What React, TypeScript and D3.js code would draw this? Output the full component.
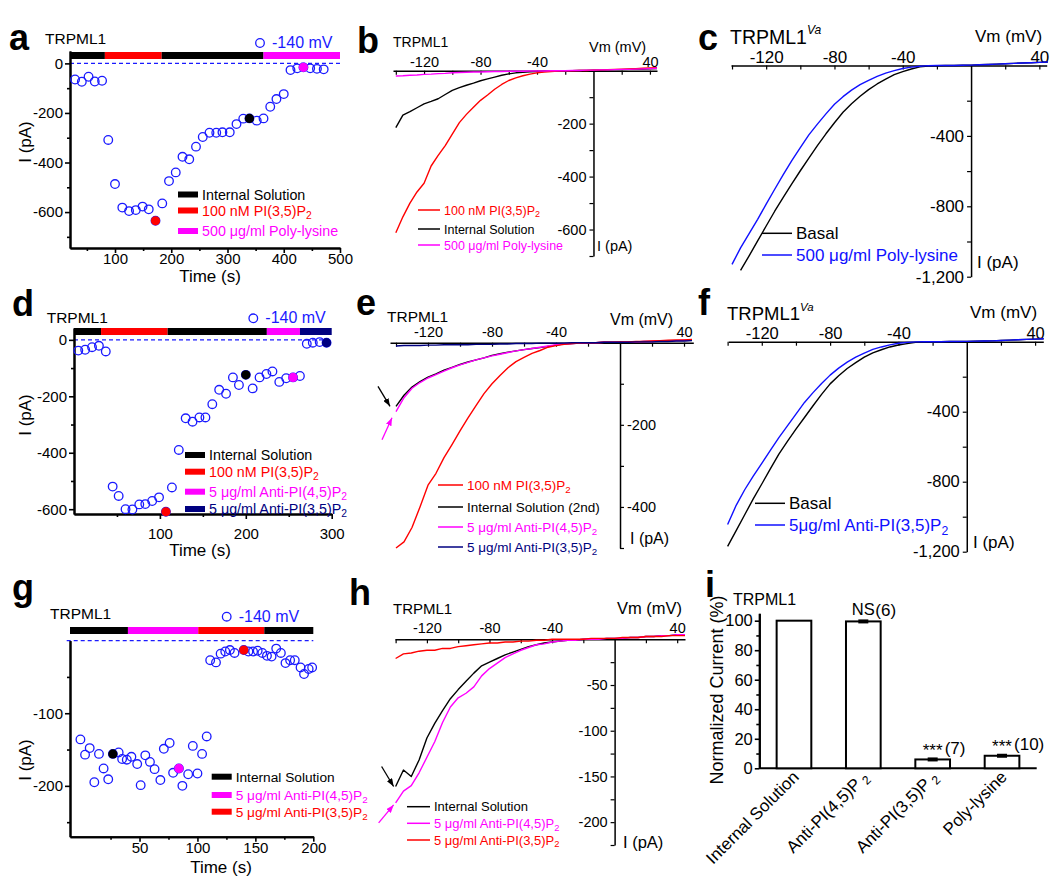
import React, { useEffect, useRef } from "react";
import * as d3 from "d3";

const FONT = "'Liberation Sans', Arial, Helvetica, sans-serif";
const BLUE = "#1a1aff";
const RED = "#ff0000";
const MAGENTA = "#ff00ff";
const NAVY = "#000080";

// ---- a: current at -140 mV over time ----
const aTime = [29, 41, 53, 64, 77, 88, 100, 113, 125, 137, 149, 160, 172, 184, 196, 208, 220, 232, 244, 256, 268, 280, 291, 304, 316, 328, 339, 352, 364, 376, 387, 400, 412, 424, 435, 447, 459, 471];
const aCurrent = [-65, -74, -54, -73, -70, -309, -487, -582, -596, -592, -578, -589, -635, -565, -475, -440, -377, -387, -336, -297, -280, -280, -278, -278, -245, -223, -222, -231, -222, -175, -144, -124, -27, -20, -16, -20, -22, -24];
const aMarkTime = [172, 339, 435];
const aMarkCurrent = [-635, -222, -16];
const aBars = [20, 82, 183, 364, 500];
const aLegend = ["Internal Solution", "100 nM PI(3,5)P_2", "500 μg/ml Poly-lysine"];

// ---- d ----
const dTime = [5, 13, 21, 29, 37, 45, 52, 60, 68, 76, 83, 91, 99, 107, 114, 122, 130, 138, 146, 153, 161, 169, 177, 185, 192, 200, 208, 216, 224, 231, 239, 247, 255, 263, 271, 278, 286, 294];
const dCurrent = [-38, -35, -26, -21, -41, -520, -553, -600, -601, -583, -582, -571, -558, -609, -523, -390, -278, -290, -275, -275, -228, -177, -191, -133, -160, -124, -172, -133, -121, -112, -149, -136, -133, -128, -14, -10, -8, -10];
const dMarkTime = [107, 200, 255, 294];
const dMarkCurrent = [-609, -124, -133, -10];
const dBars = [0, 31.5, 109, 224.5, 263, 300];
const dLegend = ["Internal Solution", "100 nM PI(3,5)P_2", "5 μg/ml Anti-PI(4,5)P_2", "5 μg/ml Anti-PI(3,5)P_2"];

// ---- g ----
const gTime = [-1, 3, 7, 11, 15, 19, 23, 27, 32, 35, 39, 43, 48, 51, 55, 59, 63, 68, 71, 76, 79, 84, 87, 92, 96, 100, 104, 108, 111, 116, 120, 124, 128, 132, 140, 144, 148, 152, 156, 160, 164, 168, 172, 176, 180, 184, 189, 192, 196, 199];
const gCurrent = [-136, -157, -148, -195, -156, -176, -191, -156, -154, -163, -164, -160, -170, -199, -158, -167, -177, -192, -149, -141, -182, -176, -200, -184, -145, -183, -156, -132, -27, -30, -18, -15, -13, -17, -13, -15, -15, -14, -17, -21, -22, -11, -17, -31, -27, -27, -37, -46, -39, -37];
const gMarkTime = [27, 84, 140];
const gMarkCurrent = [-156, -176, -13];
const gBars = [-10, 40, 100.7, 157.7, 200];
const gLegend = ["Internal Solution", "5 μg/ml Anti-PI(4,5)P_2", "5 μg/ml Anti-PI(3,5)P_2"];

// ---- I-V ramps, read every 5 mV ----
const ivVoltage = [-140, -135, -130, -125, -120, -115, -110, -105, -100, -95, -90, -85, -80, -75, -70, -65, -60, -55, -50, -45, -40, -35, -30, -25, -20, -15, -10, -5, 0, 5, 10, 15, 20, 25, 30, 35, 40, 45];
const ivTicks = [-140, -120, -100, -80, -60, -40, -20, 20, 40];
const ivTickLabels = [-120, -80, -40, 40];

const bPI35 = [-612, -552, -500, -458, -425, -360, -320, -283, -240, -196, -165, -138, -112, -92, -70, -52, -37, -27, -19, -13, -8, -5, -3, -1, 0, 0, 1, 1, 2, 3, 4, 5, 6, 7, 8, 9, 10, 11];
const bInternal = [-215, -168, -155, -140, -125, -116, -106, -90, -74, -64, -55, -47, -38, -31, -24, -17, -12, -8, -6, -4, -3, -2, -1, 0, 0, 0, 1, 1, 2, 2, 3, 4, 4, 5, 6, 6, 7, 8];
const bPolyLys = [-20, -19, -17, -16, -14, -13, -11, -10, -8, -7, -6, -5, -5, -4, -3, -3, -2, -2, -2, -1, -1, -1, 0, 0, 0, 1, 1, 2, 2, 3, 3, 4, 5, 5, 6, 7, 8, 9];

const cBasal = [null, -1164, -1082, -996, -912, -828, -749, -672, -598, -526, -455, -388, -325, -266, -217, -175, -137, -105, -77, -52, -35, -20, -8, -3, -1, 0, 0, 1, 2, 4, 6, 8, 10, 12, 14, 16, 18, 20];
const cPolyLys = [-1130, -1036, -955, -874, -788, -703, -620, -541, -466, -394, -333, -275, -220, -177, -140, -109, -84, -62, -43, -29, -17, -9, -4, -1, 0, 0, 0, 1, 2, 4, 6, 8, 10, 12, 14, 16, 18, 20];

const eP35 = [-500, -485, -450, -400, -347, -318, -280, -248, -215, -183, -153, -124, -100, -80, -61, -46, -36, -26, -19, -11, -7, -4, -2, -1, 0, 0, 1, 1, 2, 2, 3, 3, 4, 5, 6, 7, 7, 8];
const eInternal2 = [-155, -128, -108, -95, -84, -76, -67, -60, -53, -47, -42, -37, -31, -27, -23, -20, -17, -14, -12, -9, -6, -3, -2, -1, 0, 0, 1, 1, 1, 2, 2, 3, 3, 4, 4, 5, 5, 6];
const eAnti45 = [-168, -134, -111, -97, -86, -78, -69, -61, -54, -48, -42, -37, -32, -28, -24, -20, -17, -14, -11, -8, -5, -3, -2, -1, 0, 0, 1, 1, 1, 2, 2, 3, 3, 4, 5, 5, 6, 6];
const eAnti35 = [-8, -7, -7, -7, -6, -6, -5, -5, -5, -5, -4, -4, -4, -3, -3, -2, -2, -2, -1, -1, -1, -1, 0, 0, 0, 0, 1, 1, 1, 1, 2, 2, 2, 3, 3, 4, 4, 5];

const fBasal = [-1170, -1080, -989, -898, -813, -727, -642, -570, -500, -433, -366, -301, -241, -195, -153, -120, -88, -64, -46, -30, -19, -11, -4, -1, 0, 0, 1, 1, 2, 3, 4, 5, 7, 9, 11, 13, 15, 17];
const fAnti35 = [-1045, -935, -846, -768, -695, -621, -548, -481, -414, -347, -291, -239, -191, -151, -117, -88, -65, -44, -30, -18, -9, -4, -1, 0, 0, 0, 1, 1, 2, 3, 4, 5, 7, 9, 11, 13, 15, 17];

const hInternal = [-161, -143, -150, -132, -108, -92, -78, -65, -55, -46, -37, -29, -25, -21, -17, -14, -11, -8, -6, -4, -3, -2, -1, -1, 0, 0, 0, 1, 1, 1, 2, 2, 3, 3, 4, 4, 5, 5];
const hAnti45 = [-179, -166, -160, -146, -129, -112, -91, -74, -64, -59, -52, -40, -32, -26, -20, -16, -12, -9, -6, -5, -3, -2, -1, -1, 0, 0, 0, 1, 1, 1, 2, 2, 3, 3, 4, 4, 5, 5];
const hAnti35 = [-21, -16, -15, -13, -12, -12, -10, -10, -8, -7, -6, -5, -4, -4, -3, -3, -2, -2, -1, -1, 0, 0, 0, 0, 0, 1, 1, 1, 1, 2, 2, 2, 3, 3, 3, 4, 4, 4];

// ---- i: summary ----
const iLabels = ["Internal Solution", "Anti-PI(4,5)P_\u00a02", "Anti-PI(3,5)P_\u00a02", "Poly-lysine"];
const iMean = [100, 99.5, 6, 8.5];
const iSem = [0, 1, 0.8, 1];
const iSig = ["", "NS", "***", "***"];
const iN = ["", "(6)", "(7)", "(10)"];

const fmtComma = d3.formatLocale({ decimal: ".", thousands: ",", grouping: [3], currency: ["", ""], minus: "-" }).format(",");

function richText(t: any, str: string) {
  const sub = str.indexOf("_");
  const sup = str.indexOf("^");
  if (sub >= 0) {
    t.append("tspan").text(str.slice(0, sub));
    t.append("tspan").attr("font-size", "72%").attr("dy", "0.3em").text(str.slice(sub + 1));
  } else if (sup >= 0) {
    t.append("tspan").text(str.slice(0, sup));
    t.append("tspan").attr("font-size", "62%").attr("dy", "-0.8em").attr("font-style", "italic").text(str.slice(sup + 1));
  } else {
    t.text(str);
  }
}

function label(g: any, x: number, y: number, str: string, size: number, o: any = {}) {
  const t = g.append("text").attr("font-family", FONT).attr("font-size", size).attr("fill", o.color || "#000");
  if (o.rotate) t.attr("transform", `translate(${x},${y}) rotate(${o.rotate})`);
  else t.attr("x", x).attr("y", y);
  if (o.anchor) t.attr("text-anchor", o.anchor);
  if (o.weight) t.attr("font-weight", o.weight);
  richText(t, str);
  return t;
}

function styleAxis(a: any, size: number, width: number) {
  a.attr("font-family", FONT).attr("font-size", size);
  a.select(".domain").attr("stroke", "#000").attr("stroke-width", width);
  a.selectAll(".tick line").attr("stroke", "#000").attr("stroke-width", width * 0.8);
  a.selectAll(".tick text").attr("fill", "#000");
}

function drawTimeCourse(svg: any, p: any) {
  const x = d3.scaleLinear().domain(p.tDomain).range([p.left, p.right]);
  const y = d3.scaleLinear().domain(p.iDomain).range([p.bottom, p.top]);
  const g = svg.append("g");

  p.barColors.forEach((c: string, k: number) => {
    g.append("rect")
      .attr("x", x(p.bars[k]))
      .attr("y", p.barY)
      .attr("width", x(p.bars[k + 1]) - x(p.bars[k]))
      .attr("height", 7)
      .attr("fill", c);
  });
  g.append("line")
    .attr("x1", p.dashLeft).attr("x2", p.right)
    .attr("y1", y(0)).attr("y2", y(0))
    .attr("stroke", BLUE).attr("stroke-width", 1.1).attr("stroke-dasharray", "4,3");

  const xm = g.append("g").attr("transform", `translate(0,${p.bottom})`)
    .call(d3.axisBottom(x).tickValues(p.xMinor).tickFormat(() => "").tickSize(3).tickSizeOuter(0));
  styleAxis(xm, p.tickFont, 2);
  const xM = g.append("g").attr("transform", `translate(0,${p.bottom})`)
    .call(d3.axisBottom(x).tickValues(p.xTicks).tickFormat((d: any) => String(d)).tickSize(5).tickSizeOuter(0).tickPadding(p.xPad));
  styleAxis(xM, p.tickFont, 2);
  const ym = g.append("g").attr("transform", `translate(${p.left},0)`)
    .call(d3.axisLeft(y).tickValues(p.yMinor).tickFormat(() => "").tickSize(3).tickSizeOuter(0));
  styleAxis(ym, p.tickFont, 2);
  const yM = g.append("g").attr("transform", `translate(${p.left},0)`)
    .call(d3.axisLeft(y).tickValues(p.yTicks).tickFormat((d: any) => String(d)).tickSize(5).tickSizeOuter(0).tickPadding(2));
  styleAxis(yM, p.tickFont, 2);

  g.selectAll("circle.pt").data(p.times).join("circle")
    .attr("class", "pt")
    .attr("cx", (d: number) => x(d))
    .attr("cy", (d: number, i: number) => y(p.currents[i]))
    .attr("r", 4.3)
    .attr("fill", "none")
    .attr("stroke", BLUE)
    .attr("stroke-width", 1.3);
  g.selectAll("circle.mk").data(p.markT).join("circle")
    .attr("class", "mk")
    .attr("cx", (d: number) => x(d))
    .attr("cy", (d: number, i: number) => y(p.markI[i]))
    .attr("r", 4.6)
    .attr("fill", (d: number, i: number) => p.markColors[i]);

  // -140 mV key
  g.append("circle").attr("cx", p.mv[0]).attr("cy", p.mv[1]).attr("r", 4.3)
    .attr("fill", "none").attr("stroke", BLUE).attr("stroke-width", 1.3);
  label(g, p.mv[0] + 12, p.mv[1] + 5, "-140 mV", 16, { color: BLUE });

  label(g, p.title[0], p.title[1], "TRPML1", 15.5);
  label(g, p.letter[0], p.letter[1], p.letterText, 36, { weight: "bold" });
  label(g, 31, p.yLabelY, "I (pA)", 17, { rotate: -90, anchor: "middle" });
  label(g, p.xLabel[0], p.xLabel[1], "Time (s)", 17, { anchor: "middle" });

  p.legend.forEach((s: string, k: number) => {
    const cy = p.legendY[k];
    g.append("rect").attr("x", p.legendX).attr("y", cy - 3).attr("width", 20).attr("height", 6).attr("fill", p.legendColors[k]);
    label(g, p.legendX + 24, cy + p.legendFont * 0.36, s, p.legendFont, { color: p.legendColors[k] });
  });
}

function drawIV(svg: any, p: any) {
  const x = d3.scaleLinear().domain(p.vDomain).range([p.left, p.right]);
  const y = d3.scaleLinear().domain([p.iMin, 0]).range([p.bottom, p.zeroY]);
  const g = svg.append("g");

  const xa = g.append("g").attr("transform", `translate(0,${p.zeroY})`)
    .call(d3.axisTop(x).tickValues(ivTicks).tickSizeInner(-4).tickSizeOuter(0).tickPadding(p.xPad)
      .tickFormat((d: any) => (ivTickLabels.includes(d) ? String(d) : "")));
  styleAxis(xa, p.tickFont, 1.5);
  const yAxisGen = p.yRight ? d3.axisRight(y) : d3.axisLeft(y);
  const ya = g.append("g").attr("transform", `translate(${x(0)},0)`)
    .call(yAxisGen.tickValues(p.yTicks).tickSize(4).tickSizeOuter(0).tickPadding(3)
      .tickFormat((d: any) => (p.yLabels.includes(d) ? fmtComma(d) : "")));
  styleAxis(ya, p.tickFont, 1.5);

  const line = d3.line<any>()
    .defined((d: any) => d != null)
    .x((d: any, i: number) => x(ivVoltage[i]))
    .y((d: any) => y(d));
  p.curves.forEach((c: any) => {
    g.append("path").attr("d", line(c.values)).attr("fill", "none")
      .attr("stroke", c.color).attr("stroke-width", 1.4).attr("stroke-linejoin", "round");
  });

  (p.arrows || []).forEach((a: any) => {
    const vals = a.values;
    const x0 = x(ivVoltage[0]);
    const y0 = y(vals[0]);
    g.append("line")
      .attr("x1", x0 + a.tail[0]).attr("y1", y0 + a.tail[1])
      .attr("x2", x0 + a.tip[0]).attr("y2", y0 + a.tip[1])
      .attr("stroke", a.color).attr("stroke-width", 1.3)
      .attr("marker-end", `url(#${a.marker})`);
  });

  label(g, p.letter[0], p.letter[1], p.letterText, 36, { weight: "bold" });
  label(g, p.title[0], p.title[1], p.titleText, p.titleFont);
  label(g, p.vm[0], p.vm[1], "Vm (mV)", p.vmFont);
  label(g, p.ipa[0], p.ipa[1], "I (pA)", p.vmFont);

  p.curves.forEach((c: any, k: number) => {
    const lk = p.legendOrder[k];
    const cy = p.legendY[lk];
    g.append("line").attr("x1", p.legendX[0]).attr("x2", p.legendX[1]).attr("y1", cy).attr("y2", cy)
      .attr("stroke", c.color).attr("stroke-width", 1.5);
    label(g, p.legendX[1] + 4, cy + p.legendFont * 0.36, c.name, p.legendFont, { color: c.textColor || c.color });
  });
}

function drawBars(svg: any) {
  const g = svg.append("g");
  const x = d3.scaleBand().domain(iLabels.map((_, i) => String(i))).range([759.3, 1036.7]).paddingInner(0.5).paddingOuter(0.25);
  const y = d3.scaleLinear().domain([0, 105]).range([768.3, 613.3]);

  const ym = g.append("g").attr("transform", "translate(759.3,0)")
    .call(d3.axisLeft(y).tickValues([10, 30, 50, 70, 90]).tickFormat(() => "").tickSize(3).tickSizeOuter(0));
  styleAxis(ym, 16, 2);
  const yM = g.append("g").attr("transform", "translate(759.3,0)")
    .call(d3.axisLeft(y).tickValues([0, 20, 40, 60, 80, 100]).tickFormat((d: any) => String(d)).tickSize(4.5).tickSizeOuter(0).tickPadding(2));
  styleAxis(yM, 16.5, 2);
  g.append("line").attr("x1", 759.3).attr("x2", 1036.7).attr("y1", y(0)).attr("y2", y(0)).attr("stroke", "#000").attr("stroke-width", 2);

  iMean.forEach((m, i) => {
    const bx = x(String(i)) as number;
    const cx = bx + x.bandwidth() / 2;
    g.append("rect").attr("x", bx).attr("y", y(m)).attr("width", x.bandwidth()).attr("height", y(0) - y(m))
      .attr("fill", "#fff").attr("stroke", "#000").attr("stroke-width", 2);
    if (iSem[i] > 0) {
      const top = y(m + iSem[i]);
      const h = Math.max(4, y(m - iSem[i]) - top);
      g.append("rect").attr("x", cx - 5).attr("y", (y(m) - h / 2)).attr("width", 10).attr("height", h).attr("fill", "#000");
    }
    if (iSig[i]) {
      const ty = y(m + iSem[i]);
      label(g, cx, ty - (iSig[i] === "NS" ? 5 : 2), iSig[i], iSig[i] === "NS" ? 16.5 : 17, { anchor: "middle" });
      label(g, cx + 12, ty - 4, iN[i], 17);
    }
    label(g, cx + 6, 778, iLabels[i], 17, { rotate: -45, anchor: "end" });
  });

  label(g, 705, 597, "i", 36, { weight: "bold" });
  label(g, 733, 605, "TRPML1", 16);
  label(g, 723, 690, "Normalized Current (%)", 18, { rotate: -90, anchor: "middle" });
}

const App = () => {
  const ref = useRef<SVGSVGElement>(null);

  useEffect(() => {
    const svg = d3.select(ref.current);
    svg.selectAll("*").remove();

    const defs = svg.append("defs");
    [["arrowK", "#000"], ["arrowM", MAGENTA]].forEach(([id, c]) => {
      defs.append("marker").attr("id", id).attr("viewBox", "0 0 8 6").attr("refX", 8).attr("refY", 3)
        .attr("markerWidth", 8).attr("markerHeight", 6).attr("markerUnits", "userSpaceOnUse").attr("orient", "auto")
        .append("path").attr("d", "M0,0L8,3L0,6Z").attr("fill", c);
    });

    drawTimeCourse(svg, {
      tDomain: [20, 500], iDomain: [-745, 50], left: 70, right: 340, top: 51, bottom: 248,
      xTicks: [100, 200, 300, 400, 500], xMinor: [50, 150, 250, 350, 450],
      yTicks: [0, -200, -400, -600], yMinor: [-100, -300, -500, -700],
      xPad: 0, tickFont: 15, dashLeft: 70,
      bars: aBars, barColors: ["#000", RED, "#000", MAGENTA], barY: 52,
      times: aTime, currents: aCurrent, markT: aMarkTime, markI: aMarkCurrent, markColors: [RED, "#000", MAGENTA],
      mv: [260, 43], title: [45, 43.5], letter: [9, 50], letterText: "a", yLabelY: 142, xLabel: [210, 282],
      legend: aLegend, legendColors: ["#000", RED, MAGENTA], legendX: 178, legendY: [194.5, 210.5, 231], legendFont: 14.3,
    });
    drawTimeCourse(svg, {
      tDomain: [0, 300], iDomain: [-617, 42], left: 74, right: 331.7, top: 328, bottom: 514,
      xTicks: [100, 200, 300], xMinor: [50, 150, 250],
      yTicks: [0, -200, -400, -600], yMinor: [-100, -300, -500],
      xPad: 9, tickFont: 15, dashLeft: 74,
      bars: dBars, barColors: ["#000", RED, "#000", MAGENTA, NAVY], barY: 328,
      times: dTime, currents: dCurrent, markT: dMarkTime, markI: dMarkCurrent, markColors: [RED, "#000", MAGENTA, NAVY],
      mv: [253.3, 318.3], title: [46.7, 323.3], letter: [12, 316], letterText: "d", yLabelY: 415, xLabel: [200, 556],
      legend: dLegend, legendColors: ["#000", RED, MAGENTA, NAVY], legendX: 185, legendY: [455, 471.7, 491.7, 509], legendFont: 14.3,
    });
    drawTimeCourse(svg, {
      tDomain: [-10, 200], iDomain: [-270, 0], left: 70, right: 313.3, top: 640.6, bottom: 836.7,
      xTicks: [50, 100, 150, 200], xMinor: [25, 75, 125, 175],
      yTicks: [-100, -200], yMinor: [-50, -150, -250],
      xPad: 1, tickFont: 15, dashLeft: 66.7,
      bars: gBars, barColors: ["#000", MAGENTA, RED, "#000"], barY: 627,
      times: gTime, currents: gCurrent, markT: gMarkTime, markI: gMarkCurrent, markColors: ["#000", MAGENTA, RED],
      mv: [226.7, 616.7], title: [50, 619], letter: [12, 600], letterText: "g", yLabelY: 760, xLabel: [221, 873],
      legend: gLegend, legendColors: ["#000", MAGENTA, RED], legendX: 211.7, legendY: [776.7, 795, 811.7], legendFont: 13.7,
    });

    drawIV(svg, {
      vDomain: [-142, 45], left: 393, right: 657, iMin: -700, zeroY: 70.7, bottom: 256,
      yTicks: [-100, -200, -300, -400, -500, -600, -700], yLabels: [-200, -400, -600],
      tickFont: 14.5, xPad: 4,
      curves: [
        { values: bInternal, color: "#000", name: "Internal Solution" },
        { values: bPI35, color: RED, name: "100 nM PI(3,5)P_2" },
        { values: bPolyLys, color: MAGENTA, name: "500 μg/ml Poly-lysine" },
      ],
      legendOrder: [1, 0, 2], legendY: [210, 229, 245], legendX: [418, 440], legendFont: 12.5,
      letter: [357, 53], letterText: "b", title: [393, 47], titleText: "TRPML1", titleFont: 14,
      vm: [589, 52], vmFont: 14.5, ipa: [597, 251],
    });
    drawIV(svg, {
      vDomain: [-140.6, 44.3], left: 731, right: 1046.7, iMin: -1200, zeroY: 65.5, bottom: 276.7,
      yTicks: [-200, -400, -600, -800, -1000, -1200], yLabels: [-400, -800, -1200],
      tickFont: 17, xPad: 3,
      curves: [
        { values: cBasal, color: "#000", name: "Basal" },
        { values: cPolyLys, color: "#1010ff", name: "500 μg/ml Poly-lysine" },
      ],
      legendOrder: [0, 1], legendY: [233.3, 255], legendX: [762, 792], legendFont: 17,
      letter: [698, 50], letterText: "c", title: [730, 44], titleText: "TRPML1^Va", titleFont: 19.5,
      vm: [975, 42], vmFont: 17, ipa: [977, 268],
    });
    drawIV(svg, {
      vDomain: [-143.75, 45.8], left: 390, right: 693.3, iMin: -500, zeroY: 342.7, bottom: 548,
      yTicks: [-100, -200, -300, -400, -500], yLabels: [-200, -400], yRight: true,
      tickFont: 14.5, xPad: 6,
      curves: [
        { values: eInternal2, color: "#000", name: "Internal Solution (2nd)" },
        { values: eAnti45, color: MAGENTA, name: "5 μg/ml Anti-PI(4,5)P_2" },
        { values: eP35, color: RED, name: "100 nM PI(3,5)P_2" },
        { values: eAnti35, color: NAVY, name: "5 μg/ml Anti-PI(3,5)P_2" },
      ],
      legendOrder: [1, 2, 0, 3], legendY: [485, 507, 527, 547], legendX: [438, 463], legendFont: 13.5,
      arrows: [
        { values: eInternal2, color: "#000", marker: "arrowK", tail: [-18, -20], tip: [-6, 0] },
        { values: eAnti45, color: MAGENTA, marker: "arrowM", tail: [-14, 28], tip: [-4, 6] },
      ],
      letter: [356, 315], letterText: "e", title: [387, 321.7], titleText: "TRPML1", titleFont: 15.5,
      vm: [610, 325], vmFont: 16, ipa: [630, 544],
    });
    drawIV(svg, {
      vDomain: [-139.6, 44.8], left: 728.3, right: 1043.3, iMin: -1200, zeroY: 341.7, bottom: 551.7,
      yTicks: [-200, -400, -600, -800, -1000, -1200], yLabels: [-400, -800, -1200],
      tickFont: 16.5, xPad: 3,
      curves: [
        { values: fBasal, color: "#000", name: "Basal" },
        { values: fAnti35, color: "#1010ff", name: "5μg/ml Anti-PI(3,5)P_2" },
      ],
      legendOrder: [0, 1], legendY: [503.3, 525], legendX: [755, 785], legendFont: 17,
      letter: [698, 315], letterText: "f", title: [727, 320], titleText: "TRPML1^Va", titleFont: 18.5,
      vm: [970, 318], vmFont: 17, ipa: [973, 548],
    });
    drawIV(svg, {
      vDomain: [-140.4, 45], left: 395, right: 685, iMin: -225, zeroY: 639.3, bottom: 845,
      yTicks: [-25, -50, -75, -100, -125, -150, -175, -200, -225], yLabels: [-50, -100, -150, -200],
      tickFont: 14.5, xPad: 6,
      curves: [
        { values: hInternal, color: "#000", name: "Internal Solution" },
        { values: hAnti45, color: MAGENTA, name: "5 μg/ml Anti-PI(4,5)P_2" },
        { values: hAnti35, color: RED, name: "5 μg/ml Anti-PI(3,5)P_2" },
      ],
      legendOrder: [0, 1, 2], legendY: [806.7, 823.3, 840], legendX: [407, 430], legendFont: 13,
      arrows: [
        { values: hInternal, color: "#000", marker: "arrowK", tail: [-14, -20], tip: [-2, 0] },
        { values: hAnti45, color: MAGENTA, marker: "arrowM", tail: [-17, 20], tip: [-2, 2] },
      ],
      letter: [349, 605], letterText: "h", title: [393, 614], titleText: "TRPML1", titleFont: 15,
      vm: [617, 614], vmFont: 16.5, ipa: [623, 848],
    });

    drawBars(svg);
  }, []);

  return (
    <svg
      ref={ref}
      width={1050}
      height={886}
      style={{ position: "absolute", left: 0, top: 0, background: "#fff" }}
    />
  );
};

export default App;
